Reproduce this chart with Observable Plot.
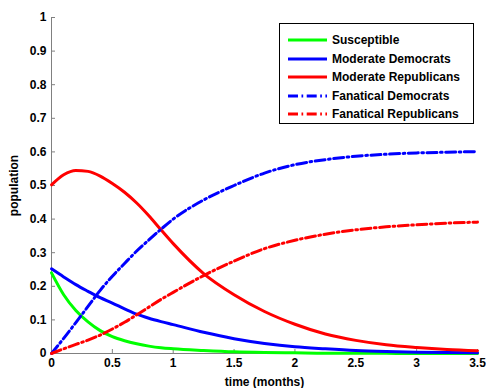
<!DOCTYPE html>
<html><head><meta charset="utf-8">
<script src="https://cdn.jsdelivr.net/npm/d3@7"></script>
<script src="https://cdn.jsdelivr.net/npm/@observablehq/plot@0.6"></script>
<style>
body{margin:0;background:#fff;}
#wrap{position:relative;width:486px;height:388px;font-family:"Liberation Sans",Arial,sans-serif;}
#legend{position:absolute;left:279px;top:23px;width:193px;height:99px;border:1px solid #000;background:#fff;}
.row{position:absolute;left:0;height:16px;width:193px;}
.row svg{position:absolute;left:8px;top:5px;}
.row span{position:absolute;left:52px;top:0;font-size:12px;font-weight:bold;line-height:16px;color:#000;white-space:nowrap;}
</style>
</head><body>
<div id="wrap"><div id="chart"></div><div id="legend"></div></div>
<script>
// ---- data ----
const time = [0, 0.1, 0.2, 0.3, 0.4, 0.5, 0.6, 0.7, 0.8, 0.9, 1.0, 1.25, 1.5, 1.75, 2.0, 2.25, 2.5, 2.75, 3.0, 3.25, 3.5];
const susceptible = [0.24, 0.175, 0.128, 0.094, 0.068, 0.050, 0.038, 0.029, 0.022, 0.017, 0.014, 0.009, 0.005, 0.003, 0.002, 0.001, 0.001, 0.0005, 0, 0, 0];
const moderateDemocrats = [0.252, 0.228, 0.205, 0.185, 0.166, 0.150, 0.133, 0.117, 0.105, 0.095, 0.086, 0.063, 0.044, 0.030, 0.020, 0.014, 0.009, 0.006, 0.004, 0.003, 0.002];
const moderateRepublicans = [0.502, 0.532, 0.545, 0.542, 0.528, 0.506, 0.480, 0.448, 0.410, 0.368, 0.327, 0.238, 0.175, 0.125, 0.087, 0.058, 0.039, 0.026, 0.018, 0.012, 0.008];
const fanaticalDemocrats = [0, 0.045, 0.092, 0.140, 0.188, 0.230, 0.268, 0.305, 0.338, 0.370, 0.400, 0.457, 0.500, 0.537, 0.562, 0.577, 0.587, 0.593, 0.597, 0.599, 0.601];
const fanaticalRepublicans = [0, 0.014, 0.027, 0.040, 0.055, 0.073, 0.093, 0.115, 0.138, 0.161, 0.182, 0.232, 0.275, 0.312, 0.337, 0.355, 0.368, 0.377, 0.383, 0.388, 0.391];
const seriesNames = ["Susceptible", "Moderate Democrats", "Moderate Republicans", "Fanatical Democrats", "Fanatical Republicans"];
const seriesValues = [susceptible, moderateDemocrats, moderateRepublicans, fanaticalDemocrats, fanaticalRepublicans];
const xTicks = [0, 0.5, 1, 1.5, 2, 2.5, 3, 3.5];
const xTickLabels = ["0", "0.5", "1", "1.5", "2", "2.5", "3", "3.5"];
const yTicks = [0, 0.1, 0.2, 0.3, 0.4, 0.5, 0.6, 0.7, 0.8, 0.9, 1];
const yTickLabels = ["0", "0.1", "0.2", "0.3", "0.4", "0.5", "0.6", "0.7", "0.8", "0.9", "1"];

// ---- styles ----
const seriesColors = ["#00ff00", "#0000ff", "#ff0000", "#0000ff", "#ff0000"];
const dashDot = "10,3.5,1.7,3.5";
const seriesDash = [null, null, null, dashDot, dashDot];
const axisGray = "#808080";

const rows = [];
seriesNames.forEach((name, s) => time.forEach((t, i) => rows.push({series: name, s, t, v: seriesValues[s][i]})));

const lineMarks = seriesNames.map((name, s) => Plot.line(rows.filter(d => d.s === s), {
  x: "t", y: "v", stroke: seriesColors[s], strokeWidth: 3,
  strokeDasharray: seriesDash[s], curve: "monotone-x"
}));

const chart = Plot.plot({
  width: 486, height: 388,
  marginLeft: 51, marginRight: 9, marginTop: 17, marginBottom: 35,
  style: {fontFamily: "Liberation Sans, Arial, sans-serif", fontSize: "12px", fontWeight: "bold", color: "#000", background: "#fff"},
  x: {domain: [0, 3.5]},
  y: {domain: [0, 1]},
  marks: [
    Plot.axisX({ticks: xTicks, tickSize: 4, dy: -4, tickFormat: () => "", stroke: axisGray, label: null}),
    Plot.axisY({ticks: yTicks, tickSize: 4, dx: 4, tickFormat: () => "", stroke: axisGray, label: null}),
    Plot.axisX({ticks: xTicks, tickSize: 0, tickPadding: 5, tickFormat: d => xTickLabels[xTicks.indexOf(d)],
      label: "time (months)", labelAnchor: "center", labelOffset: 32, labelArrow: "none"}),
    Plot.axisY({ticks: yTicks, tickSize: 0, tickPadding: 5, tickFormat: d => yTickLabels[yTicks.indexOf(d)],
      label: "population", labelAnchor: "center", labelOffset: 42, labelArrow: "none"}),
    Plot.ruleX([0], {stroke: axisGray}),
    Plot.ruleY([0], {stroke: axisGray}),
    ...lineMarks
  ]
});
document.getElementById("chart").appendChild(chart);

// ---- legend ----
const legend = document.getElementById("legend");
const rowTops = [8, 26.5, 45, 63.5, 82];
seriesNames.forEach((name, s) => {
  const row = document.createElement("div");
  row.className = "row";
  row.style.top = rowTops[s] + "px";
  const dash = seriesDash[s] ? ` stroke-dasharray="${seriesDash[s]}"` : "";
  row.innerHTML = `<svg width="39" height="6"><line x1="0" y1="3" x2="39" y2="3" stroke="${seriesColors[s]}" stroke-width="3"${dash}/></svg><span>${name}</span>`;
  legend.appendChild(row);
});
</script>
</body></html>
